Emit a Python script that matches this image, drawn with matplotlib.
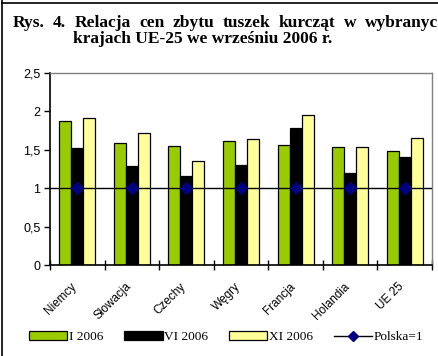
import matplotlib
matplotlib.use("Agg")
import matplotlib.pyplot as plt
from matplotlib.lines import Line2D
from matplotlib.patches import Patch
import numpy as np

categories = ["Niemcy", "Słowacja", "Czechy", "Węgry", "Francja", "Holandia", "UE 25"]
jan_2006 = [1.87, 1.59, 1.55, 1.61, 1.56, 1.54, 1.49]
jun_2006 = [1.52, 1.29, 1.16, 1.30, 1.79, 1.20, 1.40]
nov_2006 = [1.91, 1.72, 1.36, 1.64, 1.95, 1.53, 1.65]
poland = [1, 1, 1, 1, 1, 1, 1]
series_names = ["I 2006", "VI 2006", "XI 2006", "Polska=1"]
y_ticks = [0, 0.5, 1, 1.5, 2, 2.5]
y_tick_labels = ["0", "0,5", "1", "1,5", "2", "2,5"]
title_line1 = "Rys. 4. Relacja cen zbytu tuszek kurcząt w wybranyc"
title_line2 = "krajach UE-25 we wrześniu 2006 r."

W, H = 439, 356
fig = plt.figure(figsize=(W / 100, H / 100), dpi=100)

def px(x, y):
    return x / W, 1 - y / H

# frame lines of the figure box
fig.add_artist(Line2D([2 / W, 2 / W], [0, 1], color="black", lw=1.2, transform=fig.transFigure))
fig.add_artist(Line2D([2 / W, 1], [1 - 3 / H, 1 - 3 / H], color="black", lw=1.2, transform=fig.transFigure))

# justified first title line: words spread with equal gaps between x0 and x1
serif = "Liberation Serif"
title_size = 12.5
renderer = fig.canvas.get_renderer()
words = title_line1.split()
texts = [fig.text(0, 0, w, fontsize=title_size, fontweight="bold", family=serif,
                  ha="left", va="baseline") for w in words]
widths = [t.get_window_extent(renderer).width for t in texts]
x0, x1 = 13, 438
gap = (x1 - x0 - sum(widths)) / (len(words) - 1)
xpos = x0
for t, w in zip(texts, widths):
    t.set_position(px(xpos, 27))
    xpos += w + gap
fig.text(*px(73, 43), title_line2, fontsize=title_size,
         fontweight="bold", family=serif, ha="left", va="baseline")

ax = fig.add_axes([50 / W, 1 - 265 / H, (432 - 50) / W, (265 - 73) / H])
x = np.arange(len(categories))
bw = 0.22
bar_kw = dict(width=bw, edgecolor="black", linewidth=0.9, zorder=2)
ax.bar(x - bw, jan_2006, color="#99CC00", **bar_kw)
ax.bar(x, jun_2006, color="#000000", **bar_kw)
ax.bar(x + bw, nov_2006, color="#FFFF99", **bar_kw)

ax.set_xlim(-0.5, len(categories) - 0.5)
ax.set_ylim(0, 2.5)
# reference line spanning the full width, markers at category centres
ax.axhline(1, color="black", lw=1.0, zorder=3)
ax.plot(x, poland, linestyle="none", marker="D", markersize=6,
        color="#000080", zorder=4)

sans = "Liberation Sans"
ax.set_yticks(y_ticks)
ax.set_yticklabels(y_tick_labels, fontsize=9, family=sans)
ax.set_xticks(np.arange(len(categories) + 1) - 0.5)
ax.set_xticklabels([])
ax.tick_params(axis="y", direction="out", length=4, width=1, pad=3)
ax.tick_params(axis="x", direction="inout", length=7, width=1)
for i, name in enumerate(categories):
    ax.text(i - 0.12, -0.2, name, rotation=45, ha="right", va="top",
            rotation_mode="anchor", fontsize=8.5, family=sans,
            transform=ax.transData)

for side in ("top", "right"):
    ax.spines[side].set_color("#808080")
    ax.spines[side].set_linewidth(1.0)
for side in ("left", "bottom"):
    ax.spines[side].set_color("black")
    ax.spines[side].set_linewidth(1.2)

handles = [
    Patch(facecolor="#99CC00", edgecolor="black", linewidth=0.9),
    Patch(facecolor="#000000", edgecolor="black", linewidth=0.9),
    Patch(facecolor="#FFFF99", edgecolor="black", linewidth=0.9),
    Line2D([0], [0], color="black", lw=1.0, marker="D", markersize=5,
           markerfacecolor="#000080", markeredgecolor="#000080"),
]
fig.legend(handles, series_names, loc="center", bbox_to_anchor=px(226, 337),
           ncol=4, frameon=False, prop={"family": serif, "size": 9.5},
           handlelength=2.9, handleheight=0.65, handletextpad=0.1,
           columnspacing=1.6, borderpad=0)

fig.savefig("out.png", dpi=100)
